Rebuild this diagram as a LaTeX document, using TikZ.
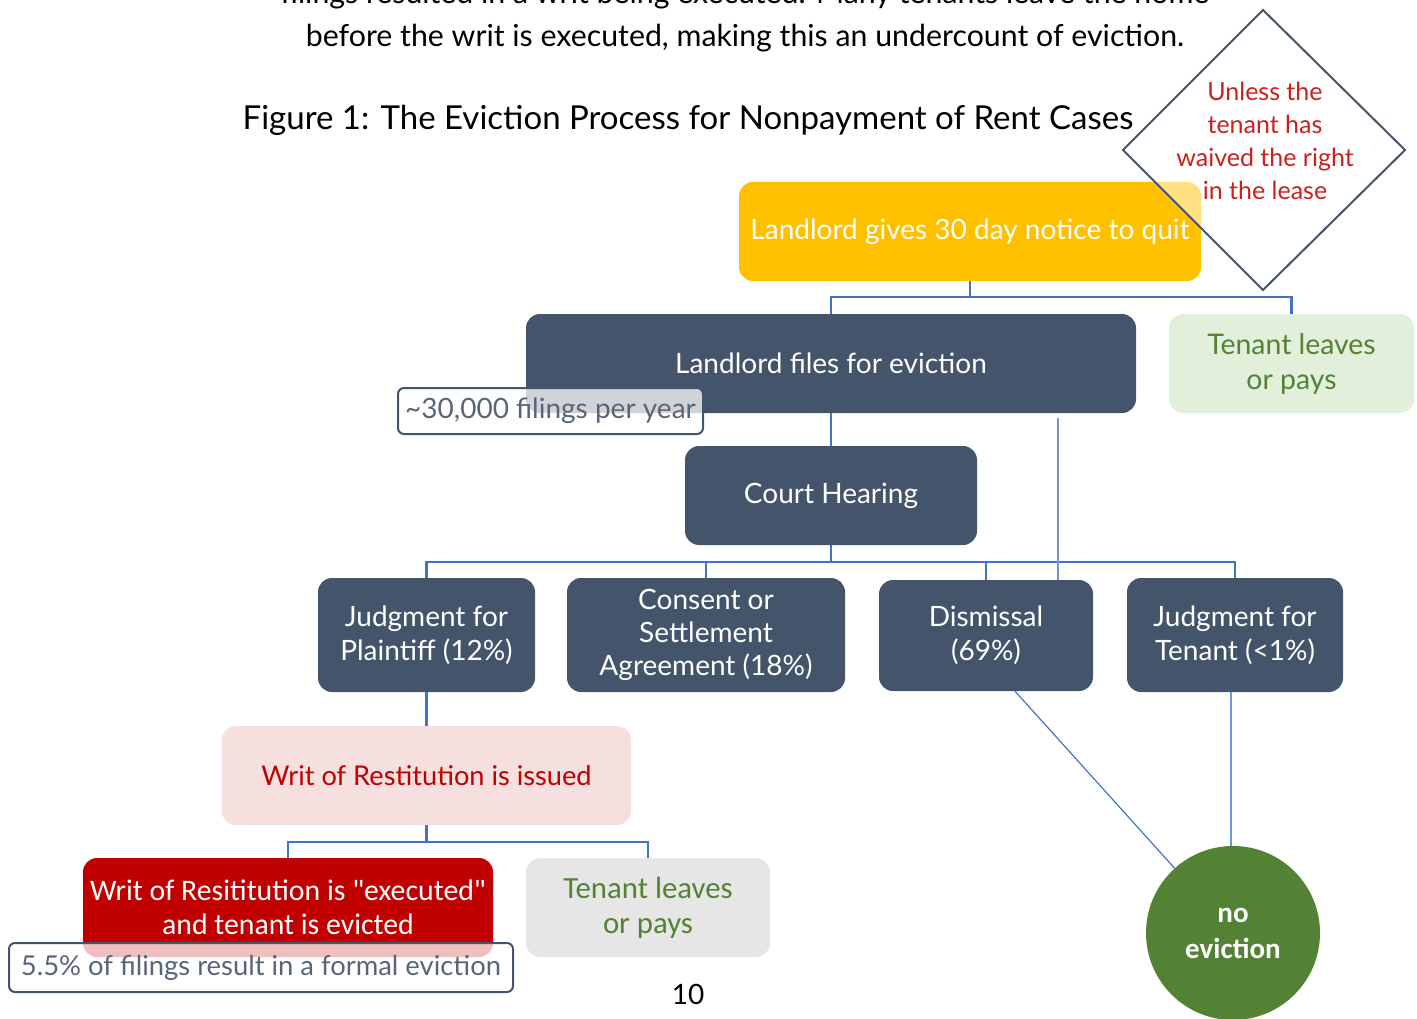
\documentclass[tikz,border=0pt]{standalone}
\usepackage{fontspec}
\setmainfont{Lato}
\newfontfamily\calib{Carlito}
\usetikzlibrary{calc}
\definecolor{darkbox}{HTML}{44546A}
\definecolor{gold}{HTML}{FFC000}
\definecolor{lgreen}{HTML}{E2EFDA}
\definecolor{tgreen}{HTML}{548235}
\definecolor{pinkbox}{HTML}{F5DFDF}
\definecolor{redbox}{HTML}{C00000}
\definecolor{graybox}{HTML}{E7E6E6}
\definecolor{conn}{HTML}{4472C4}
\definecolor{lconn}{HTML}{6F97D6}
\definecolor{dred}{HTML}{C9211E}
\tikzset{
  box/.style={rounded corners=14pt, align=center, inner sep=0pt, font=\fontsize{28}{34}\selectfont},
  darkb/.style={box, fill=darkbox, text=white},
  connline/.style={draw=conn, line width=2.4pt},
  thinline/.style={draw=lconn, line width=1.2pt},
  tag/.style={draw=darkbox, line width=2pt, rounded corners=6pt, fill=white, fill opacity=0.75, text opacity=1, text=darkbox!90, inner sep=0pt, font=\fontsize{28}{30}\selectfont}
}
\begin{document}
\begin{tikzpicture}[x=1pt,y=-1pt]
\useasboundingbox (0,0) rectangle (1417,1019);
\clip (0,0) rectangle (1417,1019);
% header text
\node[anchor=base, font=\fontsize{30.3}{36}\selectfont] (t0) at (745,4) {filings resulted in a writ being executed. Many tenants leave the home};
\node[anchor=base, font=\fontsize{30.3}{36}\selectfont] (t1) at (745,47) {before the writ is executed, making this an undercount of eviction.};
\node[anchor=base, font=\fontsize{33}{36}\selectfont] (title) at (688,130) {Figure 1: The Eviction Process for Nonpayment of Rent Cases};
% boxes
\node[box, fill=gold, text=white, minimum width=462pt, minimum height=99pt] (notice) at (970,231.5) {Landlord gives 30 day notice to quit};
\node[darkb, minimum width=610pt, minimum height=99pt] (files) at (831,363.5) {Landlord files for eviction};
\node[box, fill=lgreen, text=tgreen, font=\fontsize{28.4}{35}\selectfont, minimum width=245pt, minimum height=99pt] (leave1) at (1291.5,363.5) {Tenant leaves\\or pays};
\node[darkb, minimum width=292pt, minimum height=99pt] (court) at (831,495.5) {Court Hearing};
\node[darkb, minimum width=217pt, minimum height=114pt] (jp) at (426.5,635) {Judgment for\\Plaintiff (12\%)};
\node[darkb, font=\fontsize{28}{33}\selectfont, minimum width=278pt, minimum height=114pt] (cs) at (706,635) {Consent or\\Settlement\\Agreement (18\%)};
\node[darkb, minimum width=214pt, minimum height=111pt] (dis) at (986,635.5) {Dismissal\\(69\%)};
\node[darkb, minimum width=216pt, minimum height=114pt] (jt) at (1235,635) {Judgment for\\Tenant (<1\%)};
\node[box, fill=pinkbox, text=redbox, font=\fontsize{27.2}{33}\selectfont, minimum width=409pt, minimum height=99pt] (writ) at (426.5,775.5) {Writ of Restitution is issued};
\node[box, fill=redbox, text=white, minimum width=410pt, minimum height=99pt, font=\calib\fontsize{29.8}{34}\selectfont] (exec) at (288,907.5) {Writ of Resititution is "executed"\\and tenant is evicted};
\node[box, fill=graybox, text=tgreen, minimum width=244pt, minimum height=99pt, font=\calib\fontsize{30.8}{35}\selectfont] (leave2) at (648,907.5) {Tenant leaves\\or pays};
\node[circle, fill=tgreen, text=white, minimum size=174pt, inner sep=0pt, align=center, font=\calib\bfseries\fontsize{29}{36}\selectfont] (noev) at (1233,933) {no\\eviction};
% tags
\node[tag, minimum width=305pt, minimum height=46pt] (tag1) at (550.5,411) {\textasciitilde30,000 filings per year};
\node[tag, font=\fontsize{27.4}{30}\selectfont, minimum width=504pt, minimum height=49pt] (tag2) at (261,967.5) {5.5\% of filings result in a formal eviction};
% diamond
\filldraw[draw=darkbox, line width=2pt, fill=white, fill opacity=0.5, draw opacity=1] (1263,10) -- (1405,150) -- (1263,290) -- (1123,150) -- cycle;
\node[text=dred, align=center, font=\fontsize{25}{33}\selectfont] (cond) at (1265,141) {Unless the\\tenant has\\waived the right\\in the lease};
% connectors
\draw[connline] (notice.south) -- ++(0,16) coordinate (j1);
\draw[connline] (files.north) |- (j1) -| (leave1.north);
\draw[connline] (files.south) -- (court.north);
\draw[connline] (court.south) -- ++(0,17) coordinate (j2);
\draw[connline] (jp.north) |- (j2) -| (jt.north);
\draw[connline] (cs.north) -- (cs.north |- j2);
\draw[connline] (dis.north) -- (dis.north |- j2);
\draw[thinline] ([xshift=72pt]dis.north) -- ($([xshift=72pt]dis.north |- files.south)+(0,5)$);
\draw[connline] (jp.south) -- (writ.north);
\draw[connline] (writ.south) -- ++(0,17) coordinate (j3);
\draw[connline] (exec.north) |- (j3) -| (leave2.north);
\draw[draw=conn, line width=1.2pt] ([xshift=29pt]dis.south) -- (noev);
\draw[draw=lconn, line width=2pt] ([xshift=-4pt]jt.south) -- ([xshift=-2pt]noev.north);
\node[font=\fontsize{28}{32}\selectfont] (pg) at (688,994) {10};
\end{tikzpicture}
\end{document}
